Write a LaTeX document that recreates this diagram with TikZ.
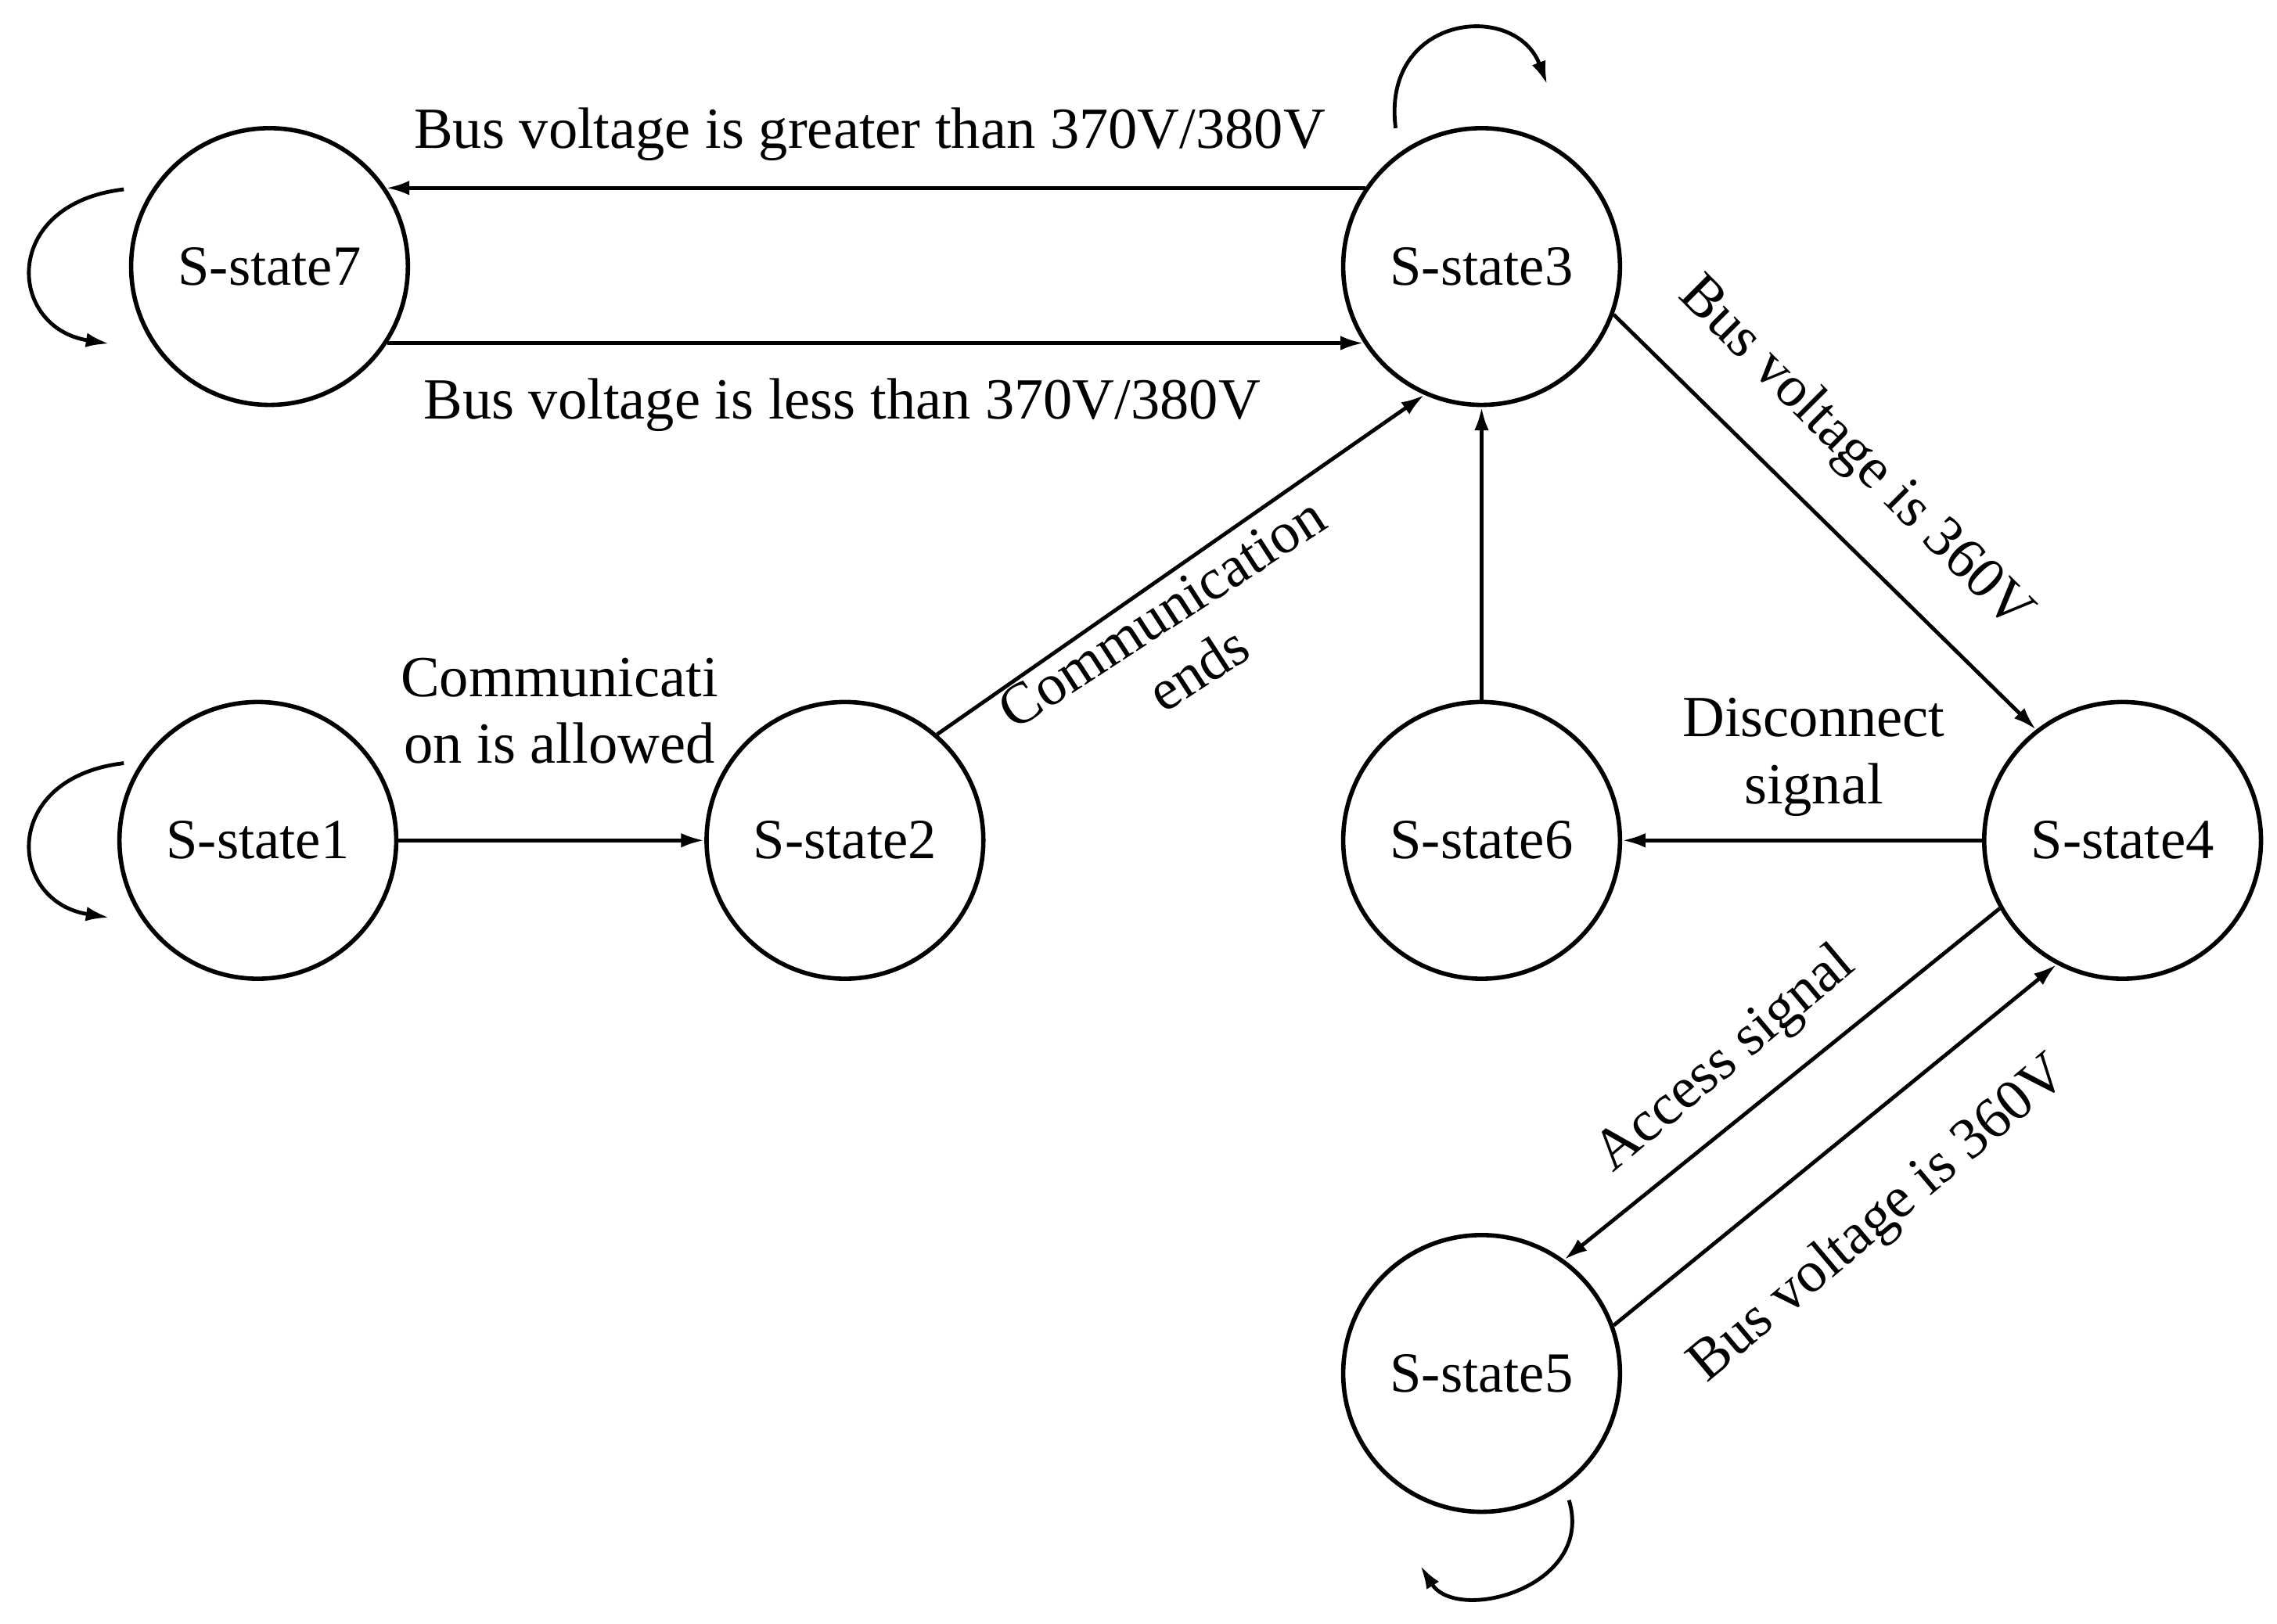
\documentclass[tikz,border=0pt]{standalone}
\usepackage{fontspec}
\setmainfont{Liberation Serif}
\usetikzlibrary{arrows.meta}
\begin{document}
\begin{tikzpicture}[x=1pt,y=-1pt,
 st/.style={circle,draw,line width=3pt,minimum size=190pt,inner sep=0pt},
 ar/.style={line width=2.6pt,-{Latex[length=16pt,width=10pt]}},
 lb/.style={font=\fontsize{40}{46}\selectfont,align=center,inner sep=0pt}]
\useasboundingbox (0,0) rectangle (1563,1115);
\begin{scope}[every node/.style={st,font=\fontsize{39}{44}\selectfont}]
\node (S7) at (185,183) {S-state7};
\node (S3) at (1017,183) {S-state3};
\node (S1) at (177,577) {S-state1};
\node (S2) at (580,577) {S-state2};
\node (S6) at (1017,577) {S-state6};
\node (S4) at (1457,577) {S-state4};
\node (S5) at (1017,943) {S-state5};
\end{scope}
\draw[ar] (S3.146) -- (S7.34);
\draw[ar] (S7.-33) -- (S3.-147);
\draw[ar] (S1) -- (S2);
\draw[ar] (S2.49) -- (S3.246);
\draw[ar] (S6) -- (S3);
\draw[ar] (S3.-20) -- (S4.128);
\draw[ar] (S4) -- (S6);
\draw[ar] (S4.209) -- (S5.54);
\draw[ar] (S5.20) -- (S4.242);
\coordinate (a1) at (85,130); \coordinate (a2) at (75,236);
\draw[ar] (a1) .. controls (0,140) and (5,225) .. (a2);
\coordinate (b1) at (85,524); \coordinate (b2) at (75,630);
\draw[ar] (b1) .. controls (0,534) and (5,619) .. (b2);
\coordinate (c1) at (958,88); \coordinate (c2) at (1062,58);
\draw[ar] (c1) .. controls (948,10) and (1040,0) .. (c2);
\coordinate (d1) at (1077,1030); \coordinate (d2) at (975,1075);
\draw[ar] (d1) .. controls (1095,1090) and (1000,1115) .. (d2);
\node[lb] (l1) at (597,92) {Bus voltage is greater than 370V/380V};
\node[lb] (l2) at (578,278) {Bus voltage is less than 370V/380V};
\node[lb] (l3) at (384,488) {Communicati\\on is allowed};
\node[lb,rotate=33] (l4) at (810,440) {Communication\\ends};
\node[lb,rotate=-45] (l5) at (1273,312) {Bus voltage is 360V};
\node[lb] (l6) at (1245,520) {Disconnect\\signal};
\node[lb,rotate=40] (l7) at (1185,728) {Access signal};
\node[lb,rotate=40] (l8) at (1290,838) {Bus voltage is 360V};
\end{tikzpicture}
\end{document}
